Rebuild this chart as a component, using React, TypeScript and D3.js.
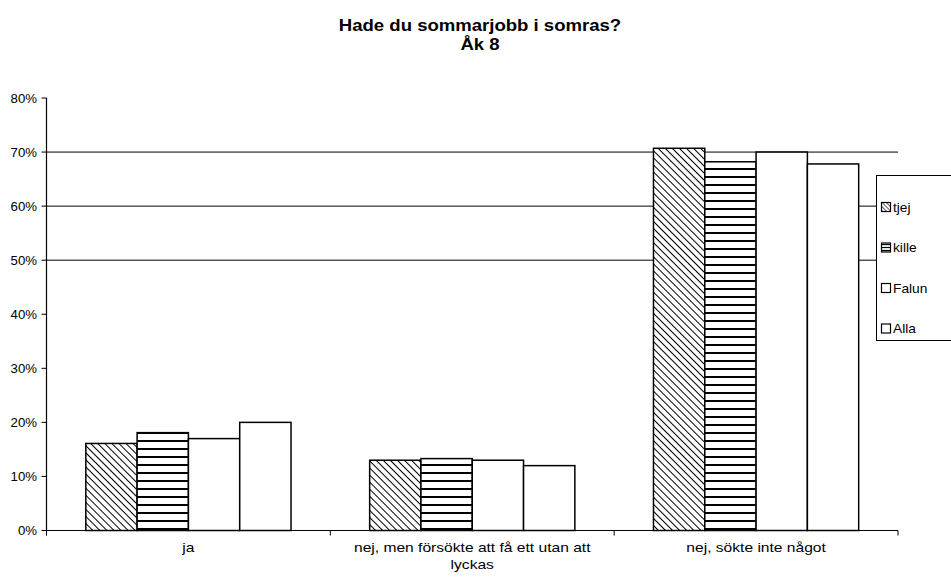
import React from "react";
import * as d3 from "d3";

const categories = ["ja", "nej, men försökte att få ett utan att lyckas", "nej, sökte inte något"];
const categoryLines = [["ja"], ["nej, men försökte att få ett utan att", "lyckas"], ["nej, sökte inte något"]];
const seriesNames = ["tjej", "kille", "Falun", "Alla"];
const tjej = [16.1, 13.0, 70.7];
const kille = [18.1, 13.3, 68.2];
const falun = [17.0, 13.0, 70.0];
const alla = [20.0, 12.0, 67.8];
const yTicks = [0, 10, 20, 30, 40, 50, 60, 70, 80];
const gridTicks = [50, 60, 70];

const seriesValues = [tjej, kille, falun, alla];
const fills = ["url(#hatch)", "url(#hstripe)", "#fff", "#fff"];

function T({ x, y, sx = 1.15, anchor = "start", size = 12.5, bold = false, children }: any) {
  return (
    <text transform={`translate(${x},${y}) scale(${sx},1)`} textAnchor={anchor} fontSize={size} fontWeight={bold ? "bold" : "normal"}>
      {children}
    </text>
  );
}

export default function App() {
  const W = 951, H = 581;
  const left = 46.5, right = 898, top = 98, bottom = 530.5;
  const x = d3.scaleBand<string>().domain(categories).range([left, right]).paddingInner(0).paddingOuter(0);
  const y = d3.scaleLinear().domain([0, 80]).range([bottom, top]);
  const bw = 51.3;
  const groupW = bw * 4;
  const font = "'Liberation Sans', Arial, sans-serif";
  return (
    <svg width={W} height={H} style={{ position: "absolute", left: 0, top: 0, background: "#fff" }} fontFamily={font}>
      <defs>
        <pattern id="hatch" patternUnits="userSpaceOnUse" width="5" height="5" patternTransform="rotate(-45)">
          <rect width="5" height="5" fill="#fff" />
          <line x1="0" y1="0" x2="0" y2="5" stroke="#000" strokeWidth="2" />
        </pattern>
        <pattern id="hstripe" patternUnits="userSpaceOnUse" width="8" height="8">
          <rect width="8" height="8" fill="#fff" />
          <line x1="0" y1="1" x2="8" y2="1" stroke="#000" strokeWidth="2" />
        </pattern>
        <pattern id="hatchS" patternUnits="userSpaceOnUse" width="3" height="3" patternTransform="rotate(-45)">
          <rect width="3" height="3" fill="#fff" />
          <line x1="0" y1="0" x2="0" y2="3" stroke="#000" strokeWidth="1.3" />
        </pattern>
        <pattern id="hstripeS" patternUnits="userSpaceOnUse" width="3" height="3">
          <rect width="3" height="3" fill="#fff" />
          <line x1="0" y1="1.5" x2="3" y2="1.5" stroke="#000" strokeWidth="1.2" />
        </pattern>
      </defs>
      <T x={480} y={31} anchor="middle" size={16} bold sx={1.16}>Hade du sommarjobb i somras?</T>
      <T x={480} y={50} anchor="middle" size={16} bold sx={1.16}>Åk 8</T>

      {gridTicks.map((t) => (
        <line key={t} x1={left} x2={right} y1={y(t)} y2={y(t)} stroke="#000" strokeWidth={1} />
      ))}

      {categories.map((c, ci) => {
        const g0 = x(c)! + (x.bandwidth() - groupW) / 2;
        return seriesValues.map((vals, si) => (
          <rect key={c + si} x={g0 + si * bw} y={y(vals[ci])} width={bw} height={bottom - y(vals[ci])}
            fill={fills[si]} stroke="#000" strokeWidth={1.5} />
        ));
      })}

      <line x1={left} x2={left} y1={top} y2={bottom} stroke="#000" strokeWidth={1.2} />
      <line x1={left} x2={right} y1={bottom} y2={bottom} stroke="#000" strokeWidth={1.2} />
      {yTicks.map((t) => (
        <g key={t}>
          <line x1={left - 5} x2={left} y1={y(t)} y2={y(t)} stroke="#000" />
          <T x={37} y={y(t) + 4.5} anchor="end" size={12} sx={1.1}>{t}%</T>
        </g>
      ))}
      {[...categories.map((c) => x(c)!), right].map((v, i) => (
        <line key={i} x1={v} x2={v} y1={bottom} y2={bottom + 5} stroke="#000" />
      ))}
      {categories.map((c, ci) =>
        categoryLines[ci].map((ln, li) => (
          <T key={c + li} x={x(c)! + x.bandwidth() / 2} y={552 + li * 17} anchor="middle" size={13} sx={1.2}>{ln}</T>
        ))
      )}

      <rect x={876.5} y={175.5} width={80} height={165} fill="#fff" stroke="#000" strokeWidth={1} />
      {seriesNames.map((s, i) => {
        const ly = 207 + i * 40.5;
        const fillS = i === 0 ? "url(#hatchS)" : i === 1 ? "url(#hstripeS)" : "#fff";
        return (
          <g key={s}>
            <rect x={881.5} y={ly - 4.5} width={9} height={9} fill={fillS} stroke="#000" strokeWidth={1.2} />
            <T x={893} y={ly + 4.5} size={12.5} sx={1.1}>{s}</T>
          </g>
        );
      })}
    </svg>
  );
}
